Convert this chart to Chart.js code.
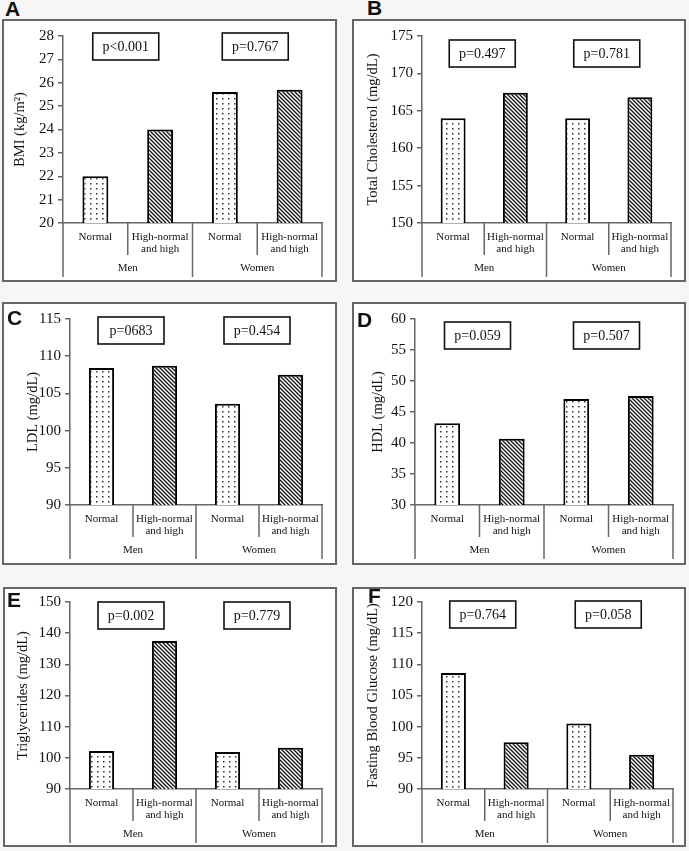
<!DOCTYPE html>
<html>
<head>
<meta charset="utf-8">
<title>Metabolic profile by blood pressure category</title>
<script src="https://cdn.jsdelivr.net/npm/chart.js@4.4.0/dist/chart.umd.min.js"></script>
<style>
    html, body { margin: 0; padding: 0; }
    body {
        width: 689px;
        height: 851px;
        background: #f6f6f6;
        position: relative;
        overflow: hidden;
    }
    .panel {
        position: absolute;
        box-sizing: border-box;
        border: 2px solid #666;
        background: #fff;
    }
    .panel canvas { display: block; }
    .letter {
        position: absolute;
        font: bold 21px "Liberation Sans", Arial, sans-serif;
        line-height: 21px;
        color: #111;
    }
</style>
</head>
<body>
<script>
const groupLabels = ["Men", "Women"];
const categoryLabels = [
    "Normal",
    ["High-normal", "and high"],
    "Normal",
    ["High-normal", "and high"],
];

// bar heights, order: men normal, men high, women normal, women high
const bmiValues = [22.0, 24.0, 25.6, 25.7];
const cholValues = [164.0, 167.4, 164.0, 166.8];
const ldlValues = [108.4, 108.7, 103.6, 107.5];
const hdlValues = [43.2, 40.7, 47.1, 47.6];
const tgValues = [102.2, 137.5, 101.9, 103.2];
const fbgValues = [108.6, 97.5, 100.5, 95.5];

const bmiP = ["p<0.001", "p=0.767"];
const cholP = ["p=0.497", "p=0.781"];
const ldlP = ["p=0683", "p=0.454"];
const hdlP = ["p=0.059", "p=0.507"];
const tgP = ["p=0.002", "p=0.779"];
const fbgP = ["p=0.764", "p=0.058"];

// y axis range: [min, max, step]
const bmiTicks = [20, 28, 1];
const cholTicks = [150, 175, 5];
const ldlTicks = [90, 115, 5];
const hdlTicks = [30, 60, 5];
const tgTicks = [90, 150, 10];
const fbgTicks = [90, 120, 5];

const panels = [
    { letter: "A", title: "BMI (kg/m²)", values: bmiValues, p: bmiP, ticks: bmiTicks,
      box: [2, 19, 337, 282], plot: [63, 36, 322, 223], letterAt: [5, -2], titleX: 20, pTop: 33 },
    { letter: "B", title: "Total Cholesterol (mg/dL)", values: cholValues, p: cholP, ticks: cholTicks,
      box: [352, 19, 686, 282], plot: [422, 36, 671, 223], letterAt: [367, -3], titleX: 373, pTop: 40 },
    { letter: "C", title: "LDL (mg/dL)", values: ldlValues, p: ldlP, ticks: ldlTicks,
      box: [2, 302, 337, 565], plot: [70, 319, 322, 505], letterAt: [7, 307], titleX: 33, pTop: 317 },
    { letter: "D", title: "HDL (mg/dL)", values: hdlValues, p: hdlP, ticks: hdlTicks,
      box: [352, 302, 686, 565], plot: [415, 319, 673, 505], letterAt: [357, 309], titleX: 378, pTop: 322 },
    { letter: "E", title: "Triglycerides (mg/dL)", values: tgValues, p: tgP, ticks: tgTicks,
      box: [3, 587, 337, 847], plot: [70, 602, 322, 789], letterAt: [7, 589], titleX: 23, pTop: 602 },
    { letter: "F", title: "Fasting Blood Glucose (mg/dL)", values: fbgValues, p: fbgP, ticks: fbgTicks,
      box: [352, 587, 686, 847], plot: [422, 602, 673, 789], letterAt: [368, 585], titleX: 373, pTop: 601 },
];

const SERIF = '"Liberation Serif", "Times New Roman", serif';

function makeDots(ctx) {
    const tile = document.createElement("canvas");
    tile.width = 6;
    tile.height = 5;
    const t = tile.getContext("2d");
    t.fillStyle = "#fff";
    t.fillRect(0, 0, 6, 5);
    t.fillStyle = "#333";
    t.fillRect(2, 2, 1.5, 1.5);
    return ctx.createPattern(tile, "repeat");
}

function makeHatch(ctx) {
    const tile = document.createElement("canvas");
    tile.width = 4;
    tile.height = 4;
    const t = tile.getContext("2d");
    t.fillStyle = "#fff";
    t.fillRect(0, 0, 4, 4);
    t.strokeStyle = "#111";
    t.lineWidth = 1.3;
    t.beginPath();
    t.moveTo(-1, -1); t.lineTo(5, 5);
    t.moveTo(-1, 3); t.lineTo(1, 5);
    t.moveTo(3, -1); t.lineTo(5, 1);
    t.stroke();
    return ctx.createPattern(tile, "repeat");
}

// separators, group names and p-value boxes under / over the bars
const groupAxisPlugin = {
    id: "groupAxis",
    afterDraw(chart, args, opts) {
        const ctx = chart.ctx;
        const xs = chart.scales.x;
        const n = chart.data.labels.length;
        const base = xs.top;
        ctx.save();
        ctx.strokeStyle = "#666";
        ctx.lineWidth = 1.5;
        for (let i = 0; i <= n; i++) {
            const px = xs.getPixelForValue(i - 0.5);
            ctx.beginPath();
            ctx.moveTo(px, base);
            ctx.lineTo(px, base + (i % 2 === 0 ? 54 : 32));
            ctx.stroke();
        }
        ctx.fillStyle = "#111";
        ctx.font = "11px " + SERIF;
        ctx.textAlign = "center";
        ctx.textBaseline = "middle";
        opts.groups.forEach((g, gi) => {
            ctx.fillText(g, xs.getPixelForValue(gi * 2 + 0.5), base + 45);
        });

        ctx.font = "14px " + SERIF;
        ctx.lineWidth = 1.6;
        ctx.strokeStyle = "#111";
        opts.pValues.forEach((txt, gi) => {
            const cx = xs.getPixelForValue(gi * 2 + 0.5) - 2;
            const w = 66, h = 27;
            ctx.fillStyle = "#fff";
            ctx.fillRect(cx - w / 2, opts.pTop, w, h);
            ctx.strokeRect(cx - w / 2, opts.pTop, w, h);
            ctx.fillStyle = "#111";
            ctx.fillText(txt, cx, opts.pTop + h / 2 + 1);
        });
        ctx.restore();
    },
};

function drawPanel(cfg) {
    const [bx0, by0, bx1, by1] = cfg.box;
    const [pl, pt, pr, pb] = cfg.plot;

    const div = document.createElement("div");
    div.className = "panel";
    div.style.left = bx0 + "px";
    div.style.top = by0 + "px";
    div.style.width = bx1 - bx0 + "px";
    div.style.height = by1 - by0 + "px";
    document.body.appendChild(div);

    const cx0 = bx0 + 2, cy0 = by0 + 2;
    const cw = bx1 - bx0 - 4, ch = by1 - by0 - 4;
    const canvas = document.createElement("canvas");
    canvas.width = cw;
    canvas.height = ch;
    div.appendChild(canvas);

    const letter = document.createElement("div");
    letter.className = "letter";
    letter.textContent = cfg.letter;
    letter.style.left = cfg.letterAt[0] + "px";
    letter.style.top = cfg.letterAt[1] + "px";
    document.body.appendChild(letter);

    const ctx = canvas.getContext("2d");
    const dots = makeDots(ctx);
    const hatch = makeHatch(ctx);
    const titleSize = 14.5;

    new Chart(ctx, {
        type: "bar",
        data: {
            labels: categoryLabels,
            datasets: [
                {
                    label: cfg.title,
                    data: cfg.values,
                    backgroundColor: [dots, hatch, dots, hatch],
                    borderColor: "#000",
                    borderWidth: 2,
                    barPercentage: 0.4,
                    categoryPercentage: 1.0,
                },
            ],
        },
        options: {
            responsive: false,
            animation: false,
            devicePixelRatio: 1,
            layout: {
                padding: { left: 0, top: pt - cy0, right: cx0 + cw - pr, bottom: 0 },
            },
            scales: {
                x: {
                    grid: { display: false, drawTicks: false },
                    border: { display: true, color: "#666", width: 1.5 },
                    ticks: {
                        color: "#111",
                        font: { family: SERIF, size: 11, lineHeight: 1.1 },
                        padding: 8,
                        maxRotation: 0,
                        minRotation: 0,
                        autoSkip: false,
                    },
                    afterFit: (scale) => {
                        scale.height = cy0 + ch - pb;
                    },
                },
                y: {
                    min: cfg.ticks[0],
                    max: cfg.ticks[1],
                    ticks: {
                        stepSize: cfg.ticks[2],
                        color: "#111",
                        font: { family: SERIF, size: 15 },
                        padding: 4,
                    },
                    grid: {
                        drawOnChartArea: false,
                        drawTicks: true,
                        tickLength: 5,
                        color: "#666",
                        lineWidth: 1.5,
                    },
                    border: { display: true, color: "#666", width: 1.5 },
                    title: {
                        display: true,
                        text: cfg.title,
                        color: "#111",
                        font: { family: SERIF, size: titleSize, lineHeight: 1.2 },
                        padding: { top: cfg.titleX - cx0 - (titleSize * 1.2) / 2, bottom: 0 },
                    },
                    afterFit: (scale) => {
                        scale.width = pl - cx0;
                    },
                },
            },
            plugins: {
                legend: { display: false },
                tooltip: { enabled: false },
                groupAxis: { groups: groupLabels, pValues: cfg.p, pTop: cfg.pTop - cy0 },
            },
        },
        plugins: [groupAxisPlugin],
    });
}

document.addEventListener("DOMContentLoaded", function () {
    panels.forEach(drawPanel);
});
</script>
</body>
</html>
